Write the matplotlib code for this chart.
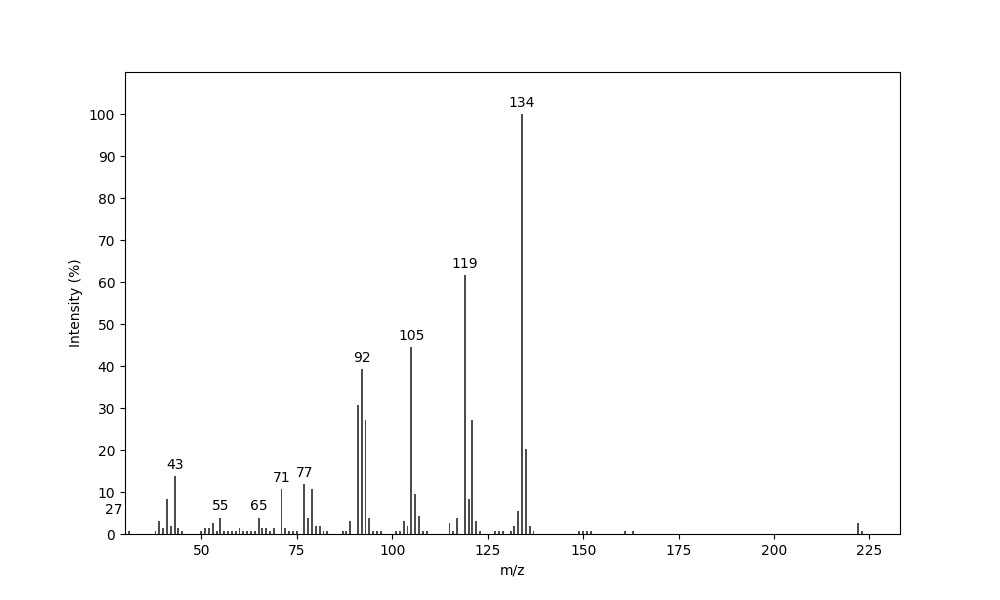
import matplotlib
matplotlib.use("Agg")
import matplotlib.pyplot as plt

mz = [27, 31, 38, 39, 40, 41, 42, 43, 44, 45,
      50, 51, 52, 53, 54, 55, 56, 57, 58, 59,
      60, 61, 62, 63, 64, 65, 66, 67, 68, 69,
      71, 72, 73, 74, 75, 77, 78, 79, 80, 81,
      82, 83, 87, 88, 89, 91, 92, 93, 94, 95,
      96, 97, 101, 102, 103, 104, 105, 106, 107, 108,
      109, 115, 116, 117, 119, 120, 121, 122, 123, 127,
      128, 129, 131, 132, 133, 134, 135, 136, 137, 149,
      150, 151, 152, 161, 163, 222, 223]
intensity = [3.0, 0.8, 0.8, 3.1, 1.4, 8.3, 1.9, 13.8, 1.4, 0.8,
             0.8, 1.4, 1.4, 2.6, 0.8, 3.9, 0.8, 0.8, 0.8, 0.8,
             1.4, 0.8, 0.8, 0.8, 0.8, 3.9, 1.4, 1.4, 0.8, 1.4,
             10.7, 1.4, 0.8, 0.8, 0.8, 11.9, 3.9, 10.7, 1.9, 1.9,
             0.8, 0.8, 0.7, 0.7, 3.1, 30.6, 39.3, 27.1, 3.8, 0.7,
             0.7, 0.7, 0.7, 0.7, 3.1, 1.9, 44.6, 9.5, 4.3, 0.7,
             0.7, 2.6, 0.7, 3.8, 61.6, 8.4, 27.1, 3.1, 0.7, 0.7,
             0.7, 0.7, 0.7, 1.9, 5.5, 100.0, 20.3, 1.9, 0.7, 0.7,
             0.7, 0.7, 0.7, 0.7, 0.7, 2.6, 0.8]
labelled = [27, 43, 55, 65, 71, 77, 92, 105, 119, 134]

fig, ax = plt.subplots(figsize=(10, 6), dpi=100)
ax.bar(mz, intensity, width=0.5, color='0.3')
for m, v in zip(mz, intensity):
    if m in labelled:
        ax.annotate(str(m), (m, v), xytext=(0, 3), textcoords='offset points',
                    ha='center', va='bottom', fontsize=10, annotation_clip=False)
ax.set_xlim(30, 233)
ax.set_ylim(0, 110)
ax.set_yticks(range(0, 101, 10))
ax.set_xlabel('m/z')
ax.set_ylabel('Intensity (%)')
fig.savefig('out.png')
